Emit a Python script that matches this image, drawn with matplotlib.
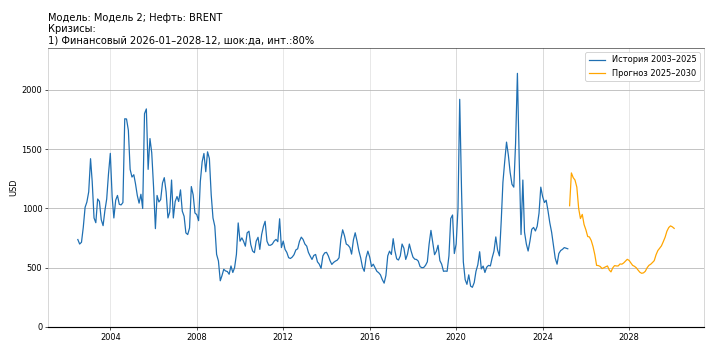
import matplotlib
matplotlib.use("Agg")
import matplotlib.pyplot as plt
import pandas as pd
import numpy as np

plt.rcParams['font.family'] = ['DejaVu Sans']

title_text = "Модель: Модель 2; Нефть: BRENT\nКризисы:\n1) Финансовый 2026-01–2028-12, шок:да, инт.:80%"
hist_label = "История 2003–2025"
fc_label = "Прогноз 2025–2030"
y_label = "USD"

hist_start = "2002-07-01"
hist_values = [
    738, 700, 715, 840, 1010, 1054, 1140, 1420, 1227, 920, 880, 1080, 1060, 905, 855, 980,
    1080, 1290, 1465, 1100, 920, 1070, 1110, 1035, 1030, 1050, 1757, 1755, 1660, 1330, 1265,
    1285, 1210, 1110, 1045, 1120, 1000, 1800, 1840, 1330, 1590, 1470, 1180, 830, 1110, 1055,
    1075, 1215, 1260, 1140, 920, 970, 1240,
    920, 1059, 1101, 1059, 1157, 978, 934, 794, 780, 836, 1185, 1115, 962, 948, 897, 1227,
    1394, 1464, 1310, 1478, 1422, 1115, 920, 850, 613, 557, 390, 432, 487, 473, 468, 445,
    515, 460, 501, 613, 878, 724, 752, 724, 682, 794, 808, 696, 641, 627, 724, 757, 655,
    780, 850, 892, 724,
    690, 690, 700, 725, 739, 720, 913, 670, 725, 654, 630, 585, 578, 590, 610, 650, 660,
    722, 758, 739, 700, 682, 630, 598, 570, 604, 612, 550, 530, 495, 600, 625, 630, 600,
    560, 528, 545, 556, 564, 584, 740, 820, 770, 700, 690, 670, 615, 735, 795, 725, 645,
    585, 505, 470,
    585, 640, 590, 510, 530, 500, 470, 458, 440, 400, 370, 435, 600, 640, 612, 745, 645,
    575, 565, 600, 700, 665, 570, 615, 700, 640, 590, 572, 570, 556, 510, 500, 502, 520,
    550, 700, 815, 715, 610, 640, 690, 560, 530, 470, 472, 470, 600, 915, 945, 620, 700,
    1000,
    1921, 1150, 550, 400, 360, 440, 345, 335, 375, 470, 525, 635, 490, 514, 460, 505, 520,
    515, 585, 640, 760, 650, 600, 900, 1220, 1400, 1560, 1450, 1305, 1204, 1180, 1550, 2140,
    1420, 780, 1240, 800, 700, 641, 725, 824, 840, 810, 850, 960, 1180, 1100, 1050, 1070,
    980, 880, 800, 690, 580, 530, 620, 645, 655, 670, 665, 660,
]

fc_start = "2025-04-01"
fc_values = [
    1023, 1300, 1260, 1240, 1180, 1000, 915, 950, 865, 820, 763, 760, 730, 680, 610, 520,
    518, 510, 493, 500, 508, 515, 480, 465, 500, 518, 515, 515, 532, 530, 540, 556, 571,
    562, 540, 520, 512, 500, 480, 462, 453, 457, 470, 500, 520, 530, 545, 560, 610, 645,
    665, 685, 720, 758, 808, 839, 853, 845, 832,
]

marker_years = ["2008-01-01", "2020-01-01", "2024-01-01"]

hist_dates = pd.date_range(hist_start, periods=len(hist_values), freq="MS")
fc_dates = pd.date_range(fc_start, periods=len(fc_values), freq="MS")

dpi = 59.33
fig = plt.figure(figsize=(712 / dpi, 352 / dpi), dpi=dpi)
ax = fig.add_axes([48 / 712, 1 - 327 / 352, (704 - 48) / 712, (327 - 48) / 352])

ax.grid(True, axis='y', color='#b8b8b8', linewidth=1.0)
ax.grid(True, axis='x', color='#e4e4e4', linewidth=1.0)
for d in marker_years:
    ax.axvline(pd.Timestamp(d), color='#a8a8a8', linewidth=1.0, zorder=1)

ax.plot(hist_dates, hist_values, color='#1f6fb2', linewidth=1.5, label=hist_label, zorder=3)
ax.plot(fc_dates, fc_values, color='orange', linewidth=1.5, label=fc_label, zorder=3)

ymax = max(max(hist_values), max(fc_values)) * 1.1
ax.set_ylim(0, ymax)
ax.set_yticks([0, 500, 1000, 1500, 2000])
ax.set_ylabel(y_label, fontsize=10)
ax.tick_params(labelsize=10)

ax.set_title(title_text, loc='left', fontsize=12, pad=5)
ax.legend(loc='upper right', fontsize=10, framealpha=1.0)

ax.spines['left'].set_color('#c4c4c4')
ax.spines['right'].set_color('#c4c4c4')
ax.spines['top'].set_color('#333333')
ax.spines['bottom'].set_color('#000000')
ax.spines['bottom'].set_linewidth(1.4)

fig.savefig("out.png", dpi=dpi)
